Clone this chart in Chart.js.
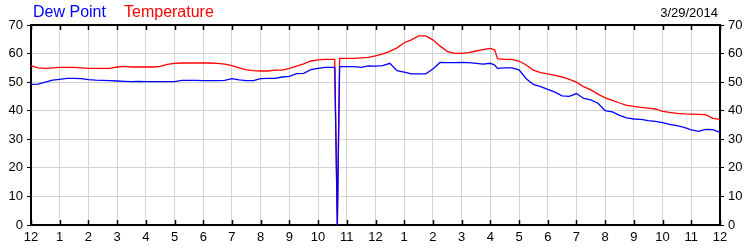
<!DOCTYPE html>
<html>
<head>
<meta charset="utf-8">
<script src="https://cdn.jsdelivr.net/npm/chart.js@4/dist/chart.umd.min.js"></script>
<style>
  html, body { margin: 0; padding: 0; background: #fff; }
  #wrap { width: 750px; height: 250px; position: relative; }
</style>
</head>
<body>
<div id="wrap"><canvas id="weatherChart" width="750" height="250"></canvas></div>
<script>
// readings, hours after midnight
const hours = [
  0, 0.25, 0.5, 0.75, 1, 1.25, 1.5, 1.75, 2, 2.25, 2.5, 2.75,
  3, 3.25, 3.5, 3.75, 4, 4.25, 4.5, 4.75, 5, 5.25, 5.5, 5.75,
  6, 6.25, 6.5, 6.75, 7, 7.25, 7.5, 7.75, 8, 8.25, 8.5, 8.75,
  9, 9.25, 9.5, 9.75, 10, 10.25, 10.5, 10.58, 10.67, 10.75,
  11, 11.25, 11.5, 11.75, 12, 12.25, 12.5, 12.75,
  13, 13.25, 13.5, 13.75, 14, 14.25, 14.5, 14.75, 15, 15.25, 15.5, 15.75,
  16, 16.15, 16.25, 16.5, 16.75, 17, 17.25, 17.5, 17.75,
  18, 18.25, 18.5, 18.75, 19, 19.25, 19.5, 19.75,
  20, 20.25, 20.5, 20.75, 21, 21.25, 21.5, 21.75,
  22, 22.25, 22.5, 22.75, 23, 23.25, 23.5, 23.75, 24
];
const temperature = [
  55.8, 55.0, 54.8, 55.0, 55.2, 55.2, 55.2, 55.0, 54.8, 54.8, 54.8, 54.8,
  55.3, 55.5, 55.3, 55.3, 55.3, 55.3, 55.5, 56.2, 56.6, 56.7, 56.7, 56.7,
  56.7, 56.7, 56.6, 56.3, 55.8, 55.0, 54.3, 54.0, 53.9, 53.9, 54.2, 54.2,
  54.8, 55.6, 56.4, 57.4, 57.8, 58.0, 58.0, 58.0, 0, 58.3,
  58.3, 58.3, 58.5, 58.7, 59.2, 59.9, 60.8, 62.0,
  63.8, 64.8, 66.2, 66.2, 64.8, 62.6, 60.8, 60.1, 60.1, 60.3, 60.9, 61.4,
  61.8, 61.3, 58.2, 58.0, 58.0, 57.4, 56.0, 54.2, 53.3,
  52.9, 52.4, 51.8, 51.0, 50.0, 48.4, 47.3, 45.8,
  44.5, 43.6, 42.7, 41.9, 41.5, 41.2, 40.9, 40.6,
  39.8, 39.4, 39.1, 38.9, 38.8, 38.7, 38.6, 37.3, 37.0
];
const dewPoint = [
  49.2, 49.3, 50.0, 50.7, 51.0, 51.3, 51.3, 51.2, 50.9, 50.7, 50.6, 50.5,
  50.4, 50.3, 50.2, 50.3, 50.2, 50.2, 50.2, 50.2, 50.2, 50.6, 50.6, 50.6,
  50.5, 50.5, 50.5, 50.6, 51.2, 50.8, 50.5, 50.5, 51.2, 51.3, 51.3, 51.8,
  52.0, 53.0, 53.1, 54.4, 54.8, 55.2, 55.2, 55.2, 0, 55.4,
  55.4, 55.4, 55.2, 55.7, 55.6, 55.8, 56.6, 54.0,
  53.5, 52.9, 52.9, 52.9, 54.6, 56.9, 56.8, 56.8, 56.9, 56.8, 56.6, 56.3,
  56.6, 56.0, 54.8, 55.0, 55.0, 54.3, 51.2, 49.2, 48.4,
  47.5, 46.5, 45.2, 45.0, 46.0, 44.3, 43.8, 42.6,
  40.0, 39.6, 38.4, 37.5, 37.1, 37.0, 36.5, 36.3,
  35.8, 35.2, 34.8, 34.2, 33.3, 32.8, 33.5, 33.4, 32.4
];
const hourLabels = ['12', '1', '2', '3', '4', '5', '6', '7', '8', '9', '10', '11',
                    '12', '1', '2', '3', '4', '5', '6', '7', '8', '9', '10', '11', '12'];
const yTicks = [0, 10, 20, 30, 40, 50, 60, 70];
const dateLabel = '3/29/2014';

const FONT = '"Liberation Sans", Arial, sans-serif';

function pts(vals) {
  return vals.map((v, i) => ({ x: hours[i], y: v }));
}

// header texts + inward tick marks on top/bottom edges
const extras = {
  id: 'extras',
  afterDraw(chart) {
    const c = chart.ctx;
    const area = chart.chartArea;
    const xs = chart.scales.x;
    c.save();
    c.strokeStyle = '#000';
    c.lineWidth = 1.5;
    c.beginPath();
    for (let h = 0; h <= 24; h++) {
      const px = Math.round(xs.getPixelForValue(h)) + 0.5;
      c.moveTo(px, area.top);
      c.lineTo(px, area.top + 5);
      c.moveTo(px, area.bottom);
      c.lineTo(px, area.bottom - 5);
    }
    c.stroke();

    c.textBaseline = 'alphabetic';
    c.font = '16px ' + FONT;
    c.textAlign = 'left';
    c.fillStyle = '#0000ff';
    c.fillText('Dew Point', 33, 17);
    c.fillStyle = '#ff0000';
    c.fillText('Temperature', 124, 17);
    c.font = '13px ' + FONT;
    c.textAlign = 'right';
    c.fillStyle = '#000';
    c.fillText(dateLabel, 718, 17);
    c.restore();
  }
};

const ctx = document.getElementById('weatherChart').getContext('2d');
const weatherChart = new Chart(ctx, {
  type: 'line',
  data: {
    datasets: [{
      label: 'Temperature',
      data: pts(temperature),
      borderColor: '#ff0000',
      borderWidth: 1.3,
      pointRadius: 0,
      tension: 0,
      order: 2
    }, {
      label: 'Dew Point',
      data: pts(dewPoint),
      borderColor: '#0000ff',
      borderWidth: 1.3,
      pointRadius: 0,
      tension: 0,
      order: 1
    }]
  },
  options: {
    responsive: false,
    animation: false,
    layout: { padding: { top: 25, left: 0, right: 0, bottom: 0 } },
    plugins: {
      legend: { display: false },
      tooltip: { enabled: false }
    },
    scales: {
      x: {
        type: 'linear',
        position: 'bottom',
        min: 0,
        max: 24,
        afterFit: s => { s.height = 25; },
        afterBuildTicks: s => { s.ticks = hourLabels.map((_, i) => ({ value: i })); },
        ticks: {
          autoSkip: false,
          maxRotation: 0,
          padding: 5,
          color: '#000',
          font: { family: FONT, size: 13 },
          callback: v => hourLabels[v]
        },
        grid: { color: '#d3d3d3', lineWidth: 1, drawTicks: false },
        border: { color: '#000', width: 2 }
      },
      xTop: {
        type: 'linear',
        position: 'top',
        min: 0,
        max: 24,
        afterFit: s => { s.height = 0; },
        ticks: { display: false },
        grid: { drawOnChartArea: false, drawTicks: false },
        border: { color: '#000', width: 2 }
      },
      y: {
        position: 'left',
        min: 0,
        max: 70,
        afterFit: s => { s.width = 31; },
        afterBuildTicks: s => { s.ticks = yTicks.map(v => ({ value: v })); },
        ticks: {
          padding: 4,
          color: '#000',
          font: { family: FONT, size: 13 }
        },
        grid: { color: '#d3d3d3', lineWidth: 1, tickColor: '#000', tickLength: 4 },
        border: { color: '#000', width: 2 }
      },
      y2: {
        position: 'right',
        min: 0,
        max: 70,
        afterFit: s => { s.width = 30; },
        afterBuildTicks: s => { s.ticks = yTicks.map(v => ({ value: v })); },
        ticks: {
          padding: 4,
          color: '#000',
          font: { family: FONT, size: 13 }
        },
        grid: { drawOnChartArea: false, tickColor: '#000', tickLength: 4 },
        border: { color: '#000', width: 2 }
      }
    }
  },
  plugins: [extras]
});
</script>
</body>
</html>
